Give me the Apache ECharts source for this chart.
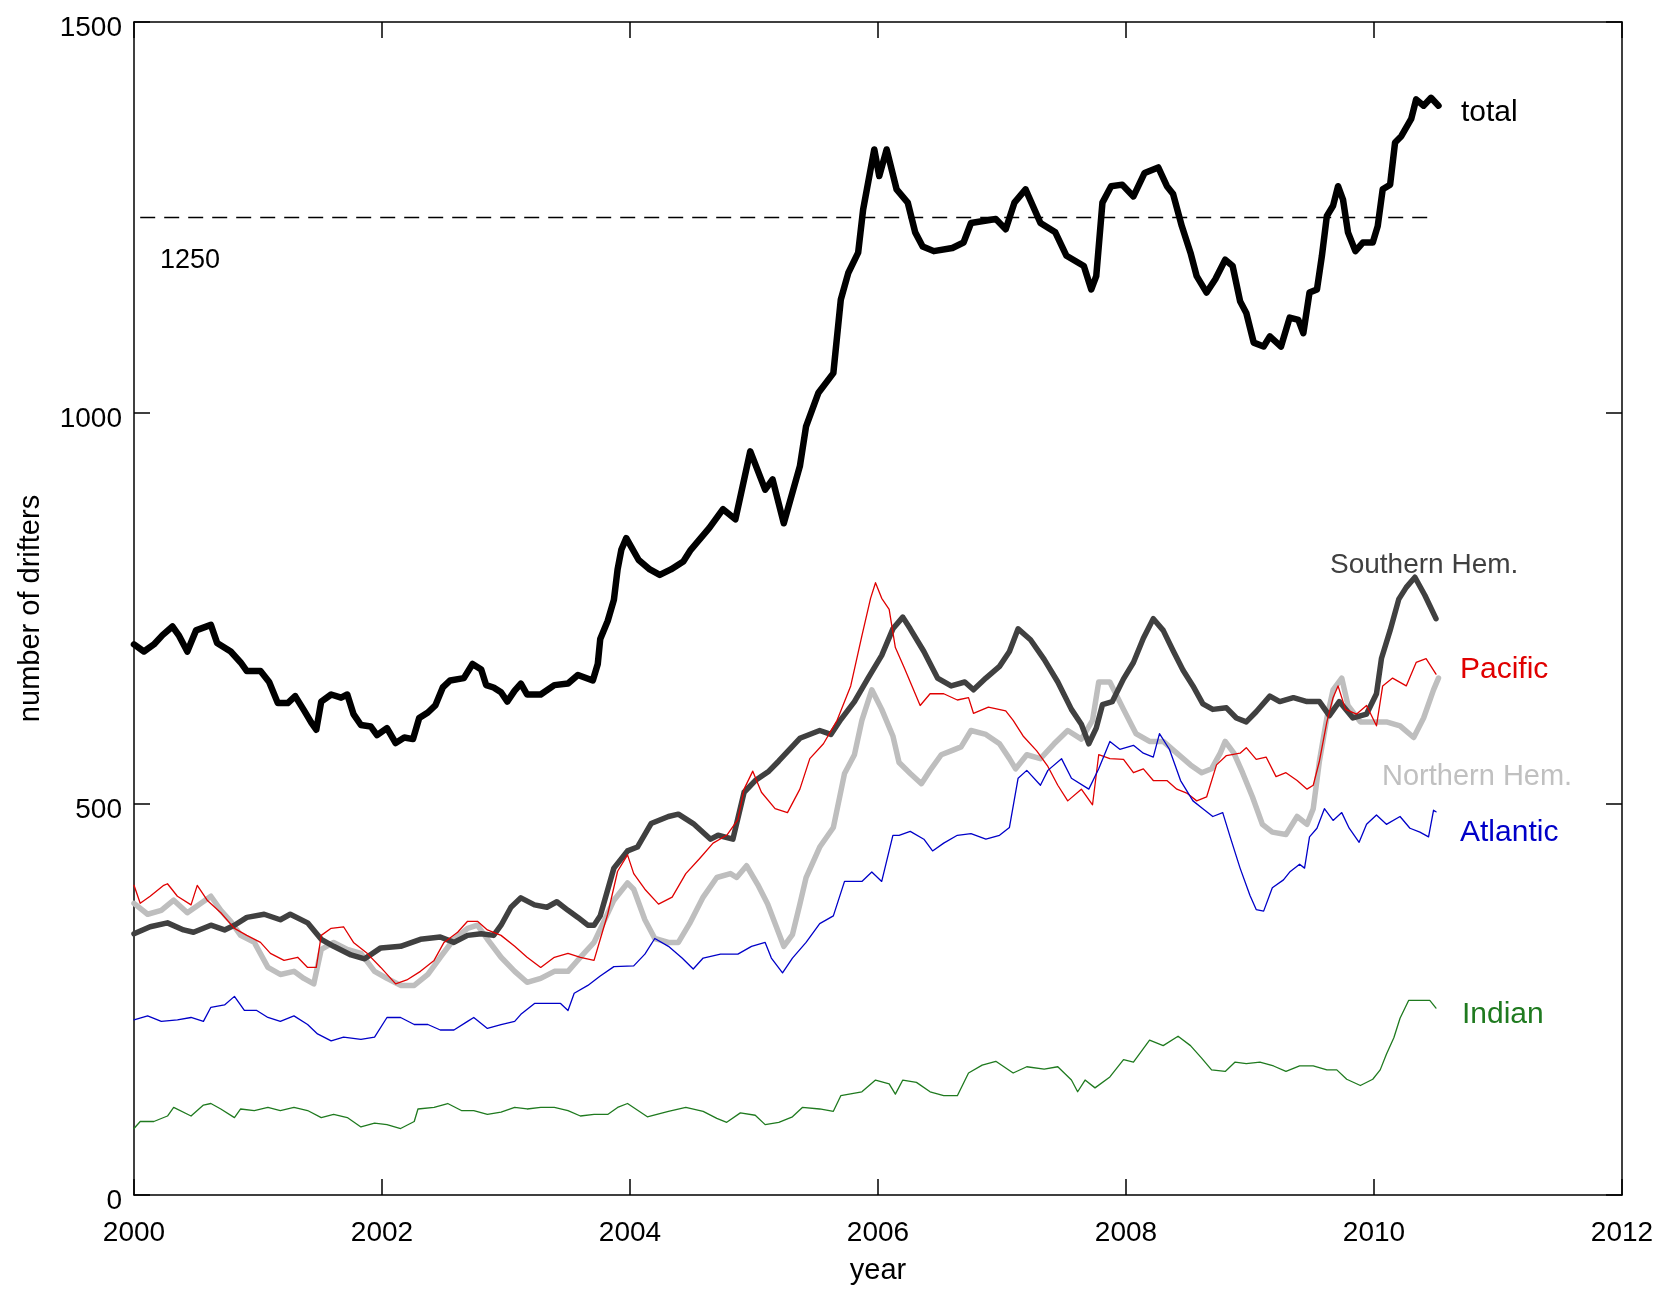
<!DOCTYPE html>
<html>
<head>
<meta charset="utf-8">
<title>number of drifters</title>
<script src="https://cdn.jsdelivr.net/npm/echarts@6/dist/echarts.min.js"></script>
<style>
html, body { margin: 0; padding: 0; background: #fff; }
#main { width: 1660px; height: 1291px; }
</style>
</head>
<body>
<div id="main"></div>
<script>
// values: [year, number of drifters]
var totalData = [
	[2000.00,704],[2000.08,695],[2000.16,704],[2000.23,716],[2000.31,727],[2000.36,716],[2000.43,695],[2000.50,722],
	[2000.62,729],[2000.67,706],[2000.78,695],[2000.86,681],[2000.91,670],[2001.02,670],[2001.09,656],[2001.16,629],
	[2001.24,629],[2001.30,638],[2001.37,620],[2001.43,604],[2001.47,595],[2001.51,631],[2001.59,640],[2001.67,636],
	[2001.72,640],[2001.77,615],[2001.83,601],[2001.91,599],[2001.96,588],[2002.04,597],[2002.11,578],[2002.18,585],
	[2002.25,583],[2002.30,610],[2002.37,617],[2002.43,626],[2002.49,649],[2002.55,658],[2002.66,661],[2002.73,679],
	[2002.80,672],[2002.84,652],[2002.90,649],[2002.96,643],[2003.01,631],[2003.07,645],[2003.12,654],[2003.17,640],
	[2003.28,640],[2003.39,652],[2003.50,654],[2003.58,665],[2003.70,658],[2003.74,679],[2003.76,711],[2003.82,734],
	[2003.87,761],[2003.90,800],[2003.93,825],[2003.97,840],[2004.07,812],[2004.16,800],[2004.24,793],[2004.33,800],
	[2004.43,810],[2004.49,825],[2004.64,853],[2004.75,877],[2004.85,864],[2004.97,951],[2005.09,902],[2005.15,915],
	[2005.24,859],[2005.37,932],[2005.42,983],[2005.52,1026],[2005.64,1051],[2005.70,1145],[2005.76,1179],[2005.84,1205],
	[2005.88,1260],[2005.97,1337],[2006.01,1303],[2006.07,1337],[2006.15,1286],[2006.24,1269],[2006.30,1231],[2006.36,1213],
	[2006.45,1207],[2006.60,1211],[2006.69,1218],[2006.75,1243],[2006.95,1248],[2007.03,1235],[2007.10,1269],[2007.19,1286],
	[2007.31,1243],[2007.43,1231],[2007.52,1201],[2007.66,1188],[2007.72,1158],[2007.76,1175],[2007.81,1269],[2007.88,1290],
	[2007.97,1292],[2008.06,1277],[2008.15,1307],[2008.26,1314],[2008.33,1290],[2008.38,1280],[2008.45,1239],[2008.52,1205],
	[2008.57,1175],[2008.65,1154],[2008.72,1171],[2008.80,1196],[2008.86,1188],[2008.92,1143],[2008.97,1128],[2009.03,1090],
	[2009.11,1085],[2009.16,1098],[2009.25,1085],[2009.32,1122],[2009.39,1119],[2009.43,1102],[2009.48,1154],[2009.54,1158],
	[2009.58,1201],[2009.62,1252],[2009.67,1265],[2009.71,1290],[2009.75,1273],[2009.79,1231],[2009.85,1207],[2009.91,1218],
	[2009.99,1218],[2010.03,1239],[2010.07,1286],[2010.13,1292],[2010.17,1346],[2010.22,1354],[2010.30,1376],[2010.34,1401],
	[2010.40,1393],[2010.46,1403],[2010.52,1393]
];

var southData = [
	[2000.00,334],[2000.13,343],[2000.27,348],[2000.40,339],[2000.48,336],[2000.62,345],[2000.73,339],[2000.81,345],
	[2000.91,355],[2001.05,359],[2001.18,352],[2001.26,359],[2001.40,348],[2001.51,327],[2001.61,318],[2001.75,307],
	[2001.86,302],[2001.99,316],[2002.15,318],[2002.31,327],[2002.47,330],[2002.58,323],[2002.69,332],[2002.80,334],
	[2002.90,332],[2002.96,345],[2003.04,368],[2003.12,380],[2003.23,371],[2003.33,368],[2003.41,375],[2003.50,364],
	[2003.58,355],[2003.66,345],[2003.71,345],[2003.76,357],[2003.87,418],[2003.98,440],[2004.06,445],[2004.17,475],
	[2004.31,484],[2004.39,487],[2004.51,475],[2004.65,455],[2004.71,460],[2004.83,455],[2004.92,515],[2005.01,530],
	[2005.12,542],[2005.20,555],[2005.37,584],[2005.53,594],[2005.62,589],[2005.70,608],[2005.81,631],[2005.92,661],
	[2006.03,690],[2006.12,724],[2006.20,739],[2006.26,724],[2006.37,695],[2006.48,661],[2006.59,651],[2006.70,656],
	[2006.77,646],[2006.87,661],[2006.98,676],[2007.06,695],[2007.13,724],[2007.23,710],[2007.34,685],[2007.45,656],
	[2007.56,621],[2007.64,602],[2007.70,577],[2007.76,597],[2007.81,627],[2007.89,631],[2007.98,660],[2008.06,681],
	[2008.14,712],[2008.22,737],[2008.30,722],[2008.38,696],[2008.46,671],[2008.54,651],[2008.62,628],[2008.70,621],
	[2008.81,623],[2008.89,610],[2008.97,605],[2009.05,618],[2009.16,638],[2009.24,631],[2009.35,636],[2009.46,631],
	[2009.56,631],[2009.64,613],[2009.72,631],[2009.83,610],[2009.94,615],[2010.02,641],[2010.06,686],[2010.13,722],
	[2010.20,762],[2010.26,777],[2010.33,790],[2010.41,767],[2010.50,737]
];

var northData = [
	[2000.00,373],[2000.11,359],[2000.22,364],[2000.32,377],[2000.43,361],[2000.54,373],[2000.62,382],[2000.70,364],
	[2000.78,350],[2000.86,332],[2000.97,323],[2001.08,291],[2001.18,282],[2001.29,286],[2001.37,277],[2001.45,270],
	[2001.51,314],[2001.61,323],[2001.72,314],[2001.83,309],[2001.94,286],[2002.04,277],[2002.15,268],[2002.26,268],
	[2002.37,282],[2002.47,304],[2002.58,327],[2002.69,341],[2002.77,345],[2002.85,327],[2002.96,304],[2003.07,286],
	[2003.17,272],[2003.28,277],[2003.39,286],[2003.50,286],[2003.60,304],[2003.71,323],[2003.79,350],[2003.87,377],
	[2003.98,399],[2004.03,391],[2004.12,352],[2004.20,328],[2004.31,323],[2004.39,323],[2004.48,347],[2004.59,381],
	[2004.70,406],[2004.81,411],[2004.86,406],[2004.94,421],[2005.03,397],[2005.11,372],[2005.18,343],[2005.24,318],
	[2005.31,333],[2005.37,372],[2005.42,406],[2005.53,445],[2005.64,470],[2005.73,539],[2005.81,563],[2005.87,607],
	[2005.95,646],[2006.03,621],[2006.12,587],[2006.17,553],[2006.26,539],[2006.35,526],[2006.42,543],[2006.51,563],
	[2006.59,568],[2006.67,573],[2006.75,594],[2006.87,589],[2006.98,577],[2007.06,558],[2007.11,545],[2007.20,563],
	[2007.31,558],[2007.42,577],[2007.53,594],[2007.64,583],[2007.73,607],[2007.78,656],[2007.87,656],[2007.98,621],
	[2008.08,590],[2008.19,580],[2008.30,580],[2008.41,565],[2008.52,550],[2008.61,540],[2008.69,545],[2008.76,565],
	[2008.80,580],[2008.87,565],[2008.94,540],[2009.02,509],[2009.10,474],[2009.18,464],[2009.29,461],[2009.38,484],
	[2009.46,474],[2009.51,494],[2009.56,555],[2009.62,610],[2009.67,646],[2009.74,661],[2009.79,626],[2009.89,605],
	[2009.99,605],[2010.10,605],[2010.21,600],[2010.32,585],[2010.40,610],[2010.48,646],[2010.52,661]
];

var pacificData = [
	[2000.00,396],[2000.05,373],[2000.13,382],[2000.24,396],[2000.27,398],[2000.35,382],[2000.46,371],[2000.51,396],
	[2000.59,377],[2000.70,361],[2000.81,341],[2000.91,332],[2001.02,323],[2001.10,309],[2001.21,300],[2001.32,304],
	[2001.40,291],[2001.47,291],[2001.51,332],[2001.59,341],[2001.69,343],[2001.77,323],[2001.88,309],[2001.99,291],
	[2002.11,270],[2002.20,275],[2002.31,286],[2002.42,300],[2002.50,323],[2002.61,336],[2002.69,350],[2002.77,350],
	[2002.85,339],[2002.96,332],[2003.07,318],[2003.17,304],[2003.28,291],[2003.39,304],[2003.50,309],[2003.60,304],
	[2003.71,300],[2003.76,327],[2003.82,359],[2003.90,414],[2003.98,435],[2004.03,411],[2004.12,391],[2004.23,372],
	[2004.34,381],[2004.45,411],[2004.56,430],[2004.67,450],[2004.78,460],[2004.87,480],[2004.92,519],[2004.99,542],
	[2005.06,515],[2005.17,494],[2005.27,489],[2005.37,519],[2005.45,558],[2005.56,577],[2005.67,607],[2005.78,651],
	[2005.87,715],[2005.94,763],[2005.98,783],[2006.03,763],[2006.09,749],[2006.14,700],[2006.21,675],[2006.34,626],
	[2006.42,641],[2006.53,641],[2006.64,633],[2006.73,636],[2006.77,616],[2006.89,624],[2007.03,619],[2007.09,607],
	[2007.17,587],[2007.28,568],[2007.37,548],[2007.45,524],[2007.53,504],[2007.64,519],[2007.73,499],[2007.78,563],
	[2007.87,558],[2007.98,557],[2008.06,540],[2008.14,545],[2008.22,530],[2008.33,530],[2008.41,519],[2008.49,514],
	[2008.57,504],[2008.65,509],[2008.73,550],[2008.81,562],[2008.92,565],[2008.97,572],[2009.05,557],[2009.13,560],
	[2009.21,535],[2009.29,540],[2009.38,530],[2009.46,519],[2009.51,524],[2009.56,555],[2009.62,605],[2009.67,636],
	[2009.71,651],[2009.77,621],[2009.86,615],[2009.94,626],[2010.02,600],[2010.07,651],[2010.15,661],[2010.26,651],
	[2010.34,681],[2010.42,686],[2010.50,666]
];

var atlanticData = [
	[2000.00,224],[2000.11,229],[2000.22,222],[2000.35,224],[2000.46,227],[2000.56,222],[2000.62,240],[2000.73,243],
	[2000.81,254],[2000.89,236],[2000.99,236],[2001.08,227],[2001.18,222],[2001.29,229],[2001.40,218],[2001.48,206],
	[2001.59,197],[2001.69,202],[2001.83,199],[2001.94,202],[2002.04,227],[2002.15,227],[2002.26,218],[2002.37,218],
	[2002.47,211],[2002.58,211],[2002.69,222],[2002.74,227],[2002.85,213],[2002.96,218],[2003.07,222],[2003.12,231],
	[2003.23,245],[2003.33,245],[2003.44,245],[2003.50,236],[2003.55,258],[2003.66,268],[2003.76,280],[2003.87,292],
	[2004.03,293],[2004.12,308],[2004.20,328],[2004.31,318],[2004.42,303],[2004.51,289],[2004.59,303],[2004.73,308],
	[2004.87,308],[2004.98,318],[2005.09,323],[2005.14,303],[2005.23,284],[2005.31,303],[2005.42,323],[2005.53,347],
	[2005.64,357],[2005.73,401],[2005.87,401],[2005.95,413],[2006.03,401],[2006.12,460],[2006.17,460],[2006.26,465],
	[2006.37,455],[2006.44,440],[2006.53,450],[2006.64,460],[2006.75,462],[2006.87,455],[2006.98,460],[2007.06,470],
	[2007.13,533],[2007.20,543],[2007.31,524],[2007.37,543],[2007.48,558],[2007.56,533],[2007.70,519],[2007.78,545],
	[2007.87,580],[2007.95,570],[2008.06,575],[2008.14,565],[2008.22,560],[2008.27,590],[2008.35,570],[2008.44,530],
	[2008.54,504],[2008.62,494],[2008.70,484],[2008.78,489],[2008.84,458],[2008.92,418],[2009.00,383],[2009.05,365],
	[2009.11,363],[2009.18,393],[2009.27,403],[2009.32,413],[2009.40,423],[2009.44,418],[2009.48,458],[2009.54,469],
	[2009.60,494],[2009.67,479],[2009.74,489],[2009.80,469],[2009.88,451],[2009.94,474],[2010.02,486],[2010.10,474],
	[2010.21,484],[2010.29,469],[2010.37,464],[2010.44,458],[2010.48,492],[2010.50,490]
];

var indianData = [
	[2000.00,85],[2000.05,94],[2000.16,94],[2000.27,101],[2000.32,112],[2000.46,101],[2000.56,115],[2000.62,117],
	[2000.70,110],[2000.81,99],[2000.86,110],[2000.97,108],[2001.08,112],[2001.18,108],[2001.29,112],[2001.40,108],
	[2001.51,99],[2001.61,103],[2001.72,99],[2001.83,87],[2001.94,92],[2002.04,90],[2002.15,85],[2002.26,94],
	[2002.29,110],[2002.42,112],[2002.53,117],[2002.64,108],[2002.74,108],[2002.85,103],[2002.96,106],[2003.07,112],
	[2003.17,110],[2003.28,112],[2003.39,112],[2003.50,108],[2003.60,101],[2003.71,103],[2003.82,103],[2003.90,112],
	[2003.98,117],[2004.14,100],[2004.31,107],[2004.45,112],[2004.59,107],[2004.70,98],[2004.78,93],[2004.89,105],
	[2005.01,102],[2005.09,90],[2005.20,93],[2005.31,100],[2005.39,112],[2005.53,110],[2005.64,107],[2005.70,127],
	[2005.87,132],[2005.98,147],[2006.09,142],[2006.14,129],[2006.20,147],[2006.31,144],[2006.42,132],[2006.53,127],
	[2006.64,127],[2006.73,156],[2006.84,166],[2006.95,171],[2007.09,156],[2007.20,164],[2007.34,161],[2007.45,164],
	[2007.56,147],[2007.61,132],[2007.67,147],[2007.75,137],[2007.87,151],[2007.98,173],[2008.06,170],[2008.19,198],
	[2008.30,191],[2008.42,203],[2008.52,191],[2008.61,175],[2008.69,160],[2008.80,158],[2008.88,170],[2008.97,168],
	[2009.08,170],[2009.19,165],[2009.29,158],[2009.40,165],[2009.51,165],[2009.62,160],[2009.70,160],[2009.78,148],
	[2009.89,140],[2009.99,148],[2010.05,160],[2010.10,180],[2010.16,201],[2010.21,226],[2010.28,249],[2010.37,249],
	[2010.45,249],[2010.50,239]
];

// dashed reference level
var refLevel = 1250;
var refData = [[2000.05, refLevel], [2010.47, refLevel]];

var FONT = '"Liberation Sans", Arial, sans-serif';

var chart = echarts.init(document.getElementById('main'));

function lineSeries(name, data, color, width, z) {
	return {
		name: name,
		type: 'line',
		data: data,
		showSymbol: false,
		symbol: 'none',
		z: z,
		lineStyle: { color: color, width: width, join: 'round', cap: 'round' }
	};
}

function frameAxis(pos, extra) {
	var a = {
		type: 'value',
		position: pos,
		axisLine: { show: true, onZero: false, lineStyle: { color: '#000', width: 1.5 } },
		axisTick: { show: true, inside: true, length: 16, lineStyle: { color: '#000', width: 1.5 } },
		splitLine: { show: false },
		axisLabel: { show: false }
	};
	for (var k in extra) a[k] = extra[k];
	return a;
}

// plain numbers, no thousands separator
function plain(v) { return String(v); }

var option = {
	backgroundColor: '#fff',
	animation: false,
	grid: { left: 134, top: 22, right: 38, bottom: 96, containLabel: false, outerBoundsMode: 'none' },
	xAxis: [
		frameAxis('bottom', {
			min: 2000, max: 2012, interval: 2,
			axisLabel: { show: true, color: '#000', fontSize: 28, fontFamily: FONT, margin: 24, formatter: plain },
			name: 'year', nameLocation: 'middle', nameGap: 61,
			nameTextStyle: { color: '#000', fontSize: 29, fontFamily: FONT }
		}),
		frameAxis('top', { min: 2000, max: 2012, interval: 2 })
	],
	yAxis: [
		frameAxis('left', {
			min: 0, max: 1500, interval: 500,
			axisLabel: { show: true, color: '#000', fontSize: 28, fontFamily: FONT, margin: 12, verticalAlign: 'top', lineHeight: 12, formatter: plain },
			name: 'number of drifters', nameLocation: 'middle', nameGap: 89, nameRotate: 90,
			nameTextStyle: { color: '#000', fontSize: 29, fontFamily: FONT }
		}),
		frameAxis('right', { min: 0, max: 1500, interval: 500 })
	],
	series: [
		{
			type: 'line', data: refData, showSymbol: false, symbol: 'none', z: 2,
			lineStyle: { color: '#000', width: 1.5, type: [15, 9] }
		},
		lineSeries('Northern Hem.', northData, '#bebebe', 5.5, 3),
		lineSeries('Southern Hem.', southData, '#404040', 5.5, 4),
		lineSeries('Pacific', pacificData, '#e00000', 1.3, 5),
		lineSeries('Atlantic', atlanticData, '#0000c8', 1.3, 5),
		lineSeries('Indian', indianData, '#1f7a1f', 1.3, 5),
		lineSeries('total', totalData, '#000', 6.5, 6)
	],
	graphic: [
		{ type: 'text', x: 1461, y: 113, style: { text: 'total', fill: '#000', font: '30px ' + FONT, verticalAlign: 'middle' } },
		{ type: 'text', x: 1330, y: 565, style: { text: 'Southern Hem.', fill: '#404040', font: '28px ' + FONT, verticalAlign: 'middle' } },
		{ type: 'text', x: 1460, y: 670, style: { text: 'Pacific', fill: '#e00000', font: '30px ' + FONT, verticalAlign: 'middle' } },
		{ type: 'text', x: 1382, y: 777, style: { text: 'Northern Hem.', fill: '#c0c0c0', font: '29px ' + FONT, verticalAlign: 'middle' } },
		{ type: 'text', x: 1460, y: 833, style: { text: 'Atlantic', fill: '#0000c8', font: '30px ' + FONT, verticalAlign: 'middle' } },
		{ type: 'text', x: 1462, y: 1015, style: { text: 'Indian', fill: '#1f7a1f', font: '30px ' + FONT, verticalAlign: 'middle' } },
		{ type: 'text', x: 160, y: 261, style: { text: String(refLevel), fill: '#000', font: '27px ' + FONT, verticalAlign: 'middle' } }
	]
};

chart.setOption(option);
</script>
</body>
</html>
